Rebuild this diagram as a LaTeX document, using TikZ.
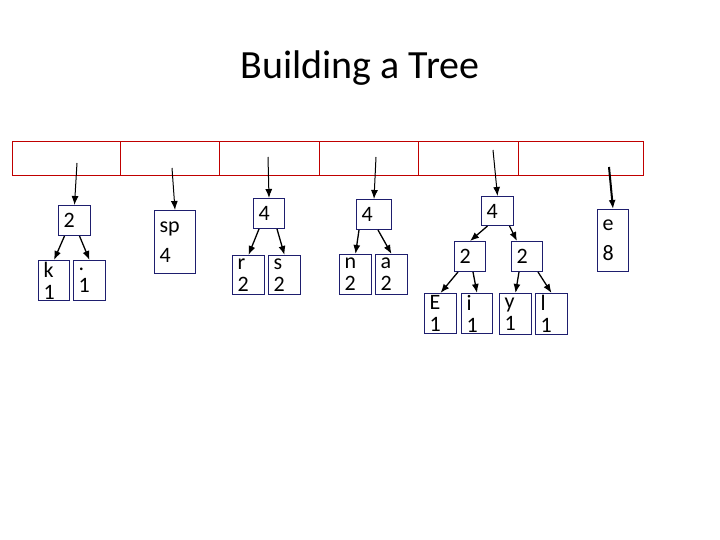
\documentclass[tikz,border=0pt]{standalone}
\usepackage{fontspec}
\setmainfont{Carlito}
\usetikzlibrary{arrows.meta}
\begin{document}
\begin{tikzpicture}[x=1pt,y=1pt,
  cell/.style={draw={rgb,255:red,192;green,0;blue,0},line width=0.8pt},
  bx/.style={draw={rgb,255:red,30;green,30;blue,110},line width=1pt,anchor=north west,inner sep=0pt,font=\fontsize{22}{22}\selectfont,align=left},
  ar/.style={line width=1.3pt}]
\useasboundingbox (0,0) rectangle (720,-540);
\node[font=\fontsize{40}{46}\selectfont] (title) at (360,-68) {Building a Tree};
% array
\foreach \a/\b [count=\i] in {12/120,120/219,219/319,319/418,418/518,518/643}
  \node[cell,minimum width=\b-\a,minimum height=34,anchor=north west,inner sep=0pt] (c\i) at (\a,-141) {};
\coordinate (s1) at (77,-163);
\coordinate (s2) at (172,-168);
\coordinate (s3) at (268,-157);
\coordinate (s4) at (376,-157);
\coordinate (s5) at (493,-150);
\coordinate (s6) at (609,-167);
% nodes
\node[bx,minimum width=32,minimum height=30,text width=28] (n2) at (58,-205) {\hspace*{3pt}2};
\node[bx,minimum width=31,minimum height=40,text width=27] (k) at (38,-260) {\hspace*{3pt}k\\\hspace*{3pt}1};
\node[bx,minimum width=32,minimum height=40,text width=28] (dot) at (73,-260) {\hspace*{3pt}.\\\hspace*{3pt}1};
\node[bx,minimum width=41,minimum height=63,text width=37] (sp) at (154,-210) {\hspace*{3pt}sp\\[8pt]\hspace*{3pt}4};
\node[bx,minimum width=31,minimum height=30,text width=27] (rs) at (253,-198) {\hspace*{3pt}4};
\node[bx,minimum width=32,minimum height=39,text width=28] (r) at (232,-255) {\hspace*{3pt}r\\\hspace*{3pt}2};
\node[bx,minimum width=32,minimum height=39,text width=28] (s) at (268,-255) {\hspace*{3pt}s\\\hspace*{3pt}2};
\node[bx,minimum width=35,minimum height=30,text width=31] (na) at (356,-199) {\hspace*{3pt}4};
\node[bx,minimum width=32,minimum height=40,text width=28] (n) at (339,-254) {\hspace*{3pt}n\\\hspace*{3pt}2};
\node[bx,minimum width=32,minimum height=40,text width=28] (a) at (375,-254) {\hspace*{3pt}a\\\hspace*{3pt}2};
\node[bx,minimum width=32,minimum height=29,text width=28] (t4) at (481,-196) {\hspace*{3pt}4};
\node[bx,minimum width=31,minimum height=30,text width=27] (l2) at (454,-241) {\hspace*{3pt}2};
\node[bx,minimum width=31,minimum height=30,text width=27] (r2) at (511,-241) {\hspace*{3pt}2};
\node[bx,minimum width=32,minimum height=40,text width=28] (E) at (424,-293) {\hspace*{3pt}E\\\hspace*{3pt}1};
\node[bx,minimum width=31,minimum height=40,text width=27] (i) at (461,-293) {\hspace*{3pt}i\\\hspace*{3pt}1};
\node[bx,minimum width=32,minimum height=41,text width=28] (y) at (499,-293) {\hspace*{3pt}y\\\hspace*{3pt}1};
\node[bx,minimum width=32,minimum height=41,text width=28] (l) at (535,-293) {\hspace*{3pt}l\\\hspace*{3pt}1};
\node[bx,minimum width=31,minimum height=62,text width=27] (e) at (597,-209) {\hspace*{3pt}e\\[8pt]\hspace*{3pt}8};
% array arrows
\draw[ar,line width=1pt,-{Latex[length=9pt,width=7pt]}] (s1) -- (n2.north);
\draw[ar,line width=1pt,-{Latex[length=9pt,width=7pt]}] (s2) -- (sp.north);
\draw[ar,line width=1pt,-{Latex[length=9pt,width=7pt]}] (s3) -- (rs.north);
\draw[ar,line width=1pt,-{Latex[length=9pt,width=7pt]}] (s4) -- (na.north);
\draw[ar,line width=1pt,-{Latex[length=9pt,width=7pt]}] (s5) -- (t4.north);
\draw[ar,line width=2pt,-{Latex[length=9pt,width=7pt]}] (s6) -- (e.north);
% tree arrows
\draw[ar,-{Latex[length=9pt,width=7pt]}] ([xshift=-10pt]n2.south) -- (k.north);
\draw[ar,-{Latex[length=9pt,width=7pt]}] ([xshift=5pt]n2.south) -- (dot.north);
\draw[ar,-{Latex[length=9pt,width=7pt]}] ([xshift=-10pt]rs.south) -- (r.north);
\draw[ar,-{Latex[length=9pt,width=7pt]}] ([xshift=8pt]rs.south) -- (s.north);
\draw[ar,-{Latex[length=9pt,width=7pt]}] ([xshift=-15pt]na.south) -- (n.north);
\draw[ar,-{Latex[length=9pt,width=7pt]}] ([xshift=4pt]na.south) -- (a.north);
\draw[ar,-{Latex[length=9pt,width=7pt]}] ([xshift=-10pt]t4.south) -- (l2.north);
\draw[ar,-{Latex[length=9pt,width=7pt]}] ([xshift=12pt]t4.south) -- ([xshift=-10pt]r2.north);
\draw[ar,-{Latex[length=9pt,width=7pt]}] ([xshift=-12pt]l2.south) -- (E.north);
\draw[ar,-{Latex[length=9pt,width=7pt]}] ([xshift=3pt]l2.south) -- (i.north);
\draw[ar,-{Latex[length=9pt,width=7pt]}] ([xshift=-8pt]r2.south) -- (y.north);
\draw[ar,-{Latex[length=9pt,width=7pt]}] ([xshift=11pt]r2.south) -- (l.north);
\end{tikzpicture}
\end{document}
